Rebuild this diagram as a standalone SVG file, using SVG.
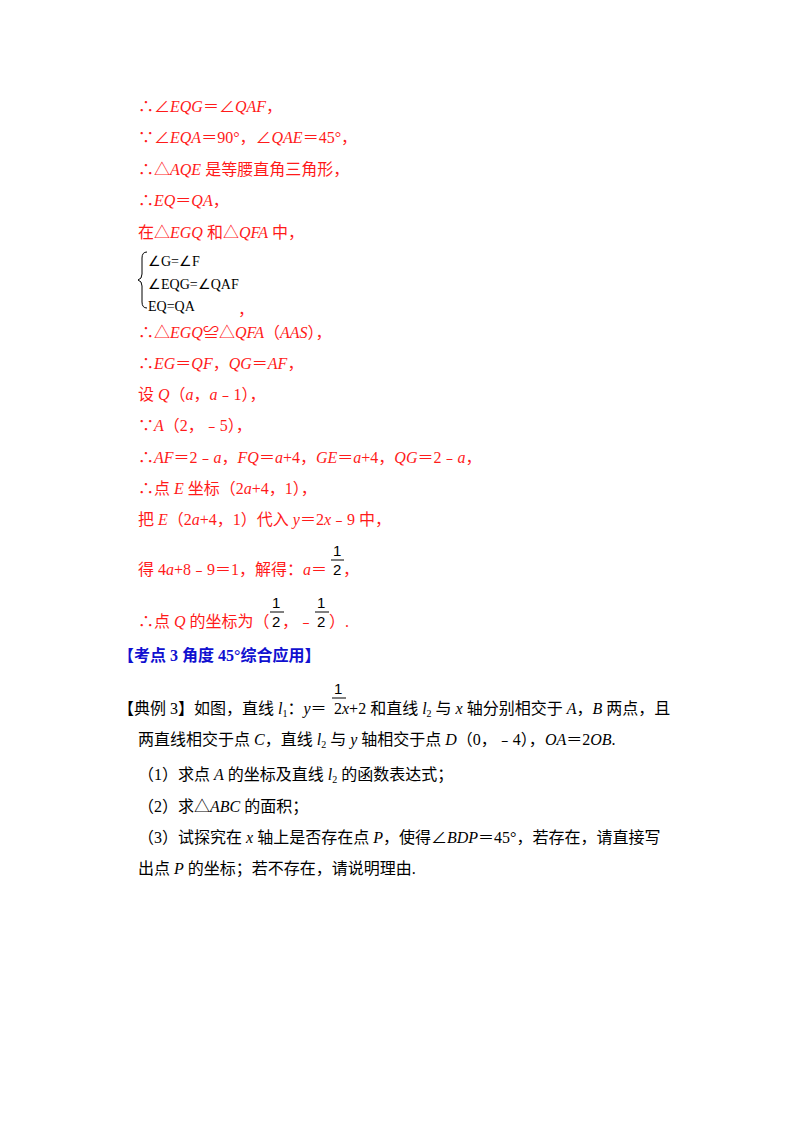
<svg xmlns="http://www.w3.org/2000/svg" width="800" height="1132" viewBox="0 0 800 1132">
<style>
text{font-family:"Liberation Serif","Noto Sans CJK SC",serif;font-size:16px}
.r{fill:#ff1a1a}
.k{fill:#000}
.b{fill:#1010d0;font-weight:bold}
.i{font-style:italic}
.s{font-family:"Liberation Serif",serif;font-size:14px;fill:#000}
.f{font-family:"Liberation Sans",sans-serif;font-size:15px;fill:#000}
</style>
<rect width="800" height="1132" fill="#fff"/>
<g id="solution" class="r">
<text class="r" x="138" y="112">∴∠<tspan class="i">EQG</tspan>＝∠<tspan class="i">QAF</tspan>，</text>
<text class="r" x="138" y="143">∵∠<tspan class="i">EQA</tspan>＝90°，∠<tspan class="i">QAE</tspan>＝45°，</text>
<text class="r" x="138" y="175">∴△<tspan class="i">AQE</tspan> 是等腰直角三角形，</text>
<text class="r" x="138" y="206">∴<tspan class="i">EQ</tspan>＝<tspan class="i">QA</tspan>，</text>
<text class="r" x="138" y="238">在△<tspan class="i">EGQ</tspan> 和△<tspan class="i">QFA</tspan> 中，</text>
<path d="M147 252 Q142 252 142 258 L142 274 Q142 279 138 280 Q142 281 142 286 L142 302 Q142 308 147 308" fill="none" stroke="#000" stroke-width="1"/>
<text class="s" x="148" y="266">∠G=∠F</text>
<text class="s" x="148" y="289">∠EQG=∠QAF</text>
<text class="s" x="148" y="311">EQ=QA</text>
<text class="r" x="238" y="315">，</text>
<text class="r" x="138" y="338">∴△<tspan class="i">EGQ</tspan>≌△<tspan class="i">QFA</tspan>（<tspan class="i">AAS</tspan>），</text>
<text class="r" x="138" y="369">∴<tspan class="i">EG</tspan>＝<tspan class="i">QF</tspan>，<tspan class="i">QG</tspan>＝<tspan class="i">AF</tspan>，</text>
<text class="r" x="138" y="400">设 <tspan class="i">Q</tspan>（<tspan class="i">a</tspan>，<tspan class="i">a</tspan>﹣1），</text>
<text class="r" x="138" y="431">∵<tspan class="i">A</tspan>（2，﹣5），</text>
<text class="r" x="138" y="463">∴<tspan class="i">AF</tspan>＝2﹣<tspan class="i">a</tspan>，<tspan class="i">FQ</tspan>＝<tspan class="i">a</tspan>+4，<tspan class="i">GE</tspan>＝<tspan class="i">a</tspan>+4，<tspan class="i">QG</tspan>＝2﹣<tspan class="i">a</tspan>，</text>
<text class="r" x="138" y="494">∴点 <tspan class="i">E</tspan> 坐标（2<tspan class="i">a</tspan>+4，1），</text>
<text class="r" x="138" y="525">把 <tspan class="i">E</tspan>（2<tspan class="i">a</tspan>+4，1）代入 <tspan class="i">y</tspan>＝2<tspan class="i">x</tspan>﹣9 中，</text>
<text class="r" x="138" y="575">得 4<tspan class="i">a</tspan>+8﹣9＝1，解得：<tspan class="i">a</tspan>＝</text>
<text class="f" x="333" y="556">1</text>
<line x1="331" y1="560" x2="344" y2="560" stroke="#000" stroke-width="1"/>
<text class="f" x="333" y="575">2</text>
<text class="r" x="343" y="575">，</text>
<text class="r" x="138" y="627">∴点 <tspan class="i">Q</tspan> 的坐标为（</text>
<text class="f" x="272" y="608">1</text>
<line x1="270" y1="612" x2="284" y2="612" stroke="#000" stroke-width="1"/>
<text class="f" x="272" y="627">2</text>
<text class="r" x="282" y="627">，﹣</text>
<text class="f" x="317" y="608">1</text>
<line x1="315" y1="612" x2="329" y2="612" stroke="#000" stroke-width="1"/>
<text class="f" x="317" y="627">2</text>
<text class="r" x="329" y="627">）.</text>
</g>
<g id="heading">
<text class="b" x="118" y="661">【考点 3  角度 45°综合应用】</text>
</g>
<g id="example" class="k">
<text x="118" y="714">【典例 3】如图，直线 <tspan class="i">l</tspan><tspan font-size="10" dy="3">1</tspan><tspan dy="-3">：</tspan><tspan class="i">y</tspan>＝</text>
<text class="f" x="334" y="694">1</text>
<line x1="332" y1="698" x2="346" y2="698" stroke="#000" stroke-width="1"/>
<text x="334" y="714">2<tspan class="i">x</tspan>+2 和直线 <tspan class="i">l</tspan><tspan font-size="10" dy="3">2</tspan><tspan dy="-3"> 与 </tspan><tspan class="i">x</tspan> 轴分别相交于 <tspan class="i">A</tspan>，<tspan class="i">B</tspan> 两点，且</text>
<text x="138" y="745">两直线相交于点 <tspan class="i">C</tspan>，直线 <tspan class="i">l</tspan><tspan font-size="10" dy="3">2</tspan><tspan dy="-3"> 与 </tspan><tspan class="i">y</tspan> 轴相交于点 <tspan class="i">D</tspan>（0，﹣4），<tspan class="i">OA</tspan>＝2<tspan class="i">OB</tspan>.</text>
<text x="138" y="780">（1）求点 <tspan class="i">A</tspan> 的坐标及直线 <tspan class="i">l</tspan><tspan font-size="10" dy="3">2</tspan><tspan dy="-3"> 的函数表达式；</tspan></text>
<text x="138" y="812">（2）求△<tspan class="i">ABC</tspan> 的面积；</text>
<text x="138" y="843">（3）试探究在 <tspan class="i">x</tspan> 轴上是否存在点 <tspan class="i">P</tspan>，使得∠<tspan class="i">BDP</tspan>＝45°，若存在，请直接写</text>
<text x="138" y="874">出点 <tspan class="i">P</tspan> 的坐标；若不存在，请说明理由.</text>
</g>
</svg>
